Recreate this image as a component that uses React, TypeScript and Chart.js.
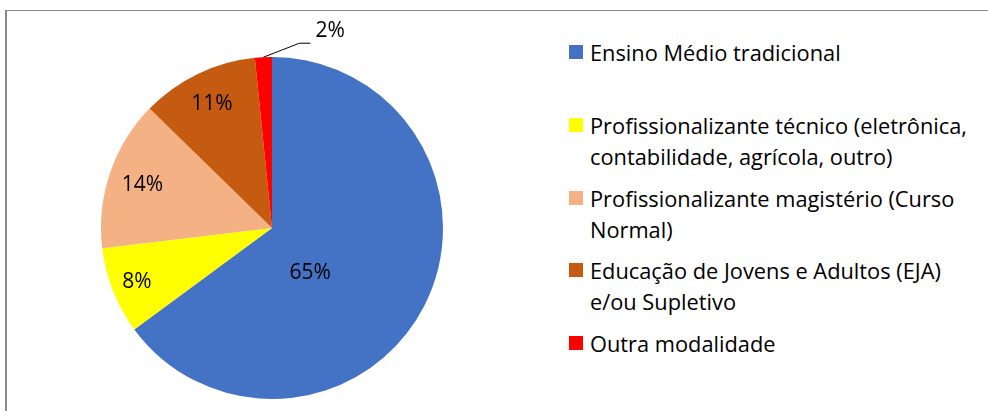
import React, { useEffect, useRef } from "react";
import { Chart, registerables } from "chart.js";

Chart.register(...registerables);

const categories = [
  "Ensino Médio tradicional",
  "Profissionalizante técnico (eletrônica,\ncontabilidade, agrícola, outro)",
  "Profissionalizante magistério (Curso\nNormal)",
  "Educação de Jovens e Adultos (EJA)\ne/ou Supletivo",
  "Outra modalidade",
];
const values = [64.9, 8.2, 14.2, 11.1, 1.6];
const valueLabels = ["65%", "8%", "14%", "11%", "2%"];
const colors = ["#4472C4", "#FFFF00", "#F4B183", "#C55A11", "#FF0000"];

// label placement style: radius fraction and angular offset (deg); null => outside with leader
const labelRadius: (number | null)[] = [0.34, 0.85, 0.8, 0.81, null];
const labelAngleOffset = [22, 0, 0, 0, 0];
const legendGaps = [0, 42, 11, 10, 11];

const FONT = "'Open Sans', 'Noto Sans', sans-serif";

const labelPlugin = {
  id: "sliceLabels",
  afterDatasetsDraw(chart: any) {
    const ctx = chart.ctx;
    const meta = chart.getDatasetMeta(0);
    ctx.save();
    ctx.font = `21px ${FONT}`;
    ctx.fillStyle = "#000";
    meta.data.forEach((arc: any, i: number) => {
      const { x, y, startAngle, endAngle, outerRadius } = arc.getProps(
        ["x", "y", "startAngle", "endAngle", "outerRadius"],
        true
      );
      const mid = (startAngle + endAngle) / 2;
      const frac = labelRadius[i];
      if (frac !== null) {
        const a = mid + (labelAngleOffset[i] * Math.PI) / 180;
        ctx.textAlign = "center";
        ctx.textBaseline = "middle";
        ctx.fillText(valueLabels[i], x + Math.cos(a) * outerRadius * frac, y + Math.sin(a) * outerRadius * frac + 1);
      } else {
        const px = x + Math.cos(mid) * outerRadius;
        const py = y + Math.sin(mid) * outerRadius;
        const ex = px + 36;
        const ey = py - 14;
        ctx.strokeStyle = "#000";
        ctx.lineWidth = 1;
        ctx.beginPath();
        ctx.moveTo(px, py);
        ctx.lineTo(ex, ey);
        ctx.lineTo(ex + 11, ey);
        ctx.stroke();
        ctx.textAlign = "left";
        ctx.textBaseline = "middle";
        ctx.fillText(valueLabels[i], ex + 16, ey - 12);
      }
    });
    ctx.restore();
  },
};

export default function App() {
  const ref = useRef<HTMLCanvasElement>(null);
  useEffect(() => {
    document.body.style.margin = "0";
    const chart = new Chart(ref.current!, {
      type: "pie",
      data: {
        labels: categories,
        datasets: [
          {
            data: values,
            backgroundColor: colors,
            borderWidth: 0,
          },
        ],
      },
      options: {
        animation: false,
        responsive: false,
        layout: { padding: { left: 101, top: 57, right: 117, bottom: 12 } },
        plugins: { legend: { display: false }, tooltip: { enabled: false } },
      },
      plugins: [labelPlugin],
    });
    return () => chart.destroy();
  }, []);

  return (
    <div style={{ position: "relative", width: 988, height: 411, overflow: "hidden", background: "#fff" }}>
      <div
        style={{
          position: "absolute",
          left: 5,
          top: 10,
          width: 1000,
          height: 420,
          borderLeft: "2px solid #8c8c8c",
          borderTop: "1.5px solid #8c8c8c",
        }}
      />
      <canvas ref={ref} width={560} height={411} style={{ position: "absolute", left: 0, top: 0 }} />
      <div style={{ position: "absolute", left: 569, top: 36.5, fontFamily: FONT, fontSize: 21.8, color: "#000" }}>
        {categories.map((c, i) => (
          <div key={i} style={{ display: "flex", alignItems: "flex-start", marginTop: legendGaps[i] }}>
            <div style={{ width: 14, height: 14, background: colors[i], marginTop: 8.5, flex: "none" }} />
            <div style={{ marginLeft: 7, lineHeight: "31px", whiteSpace: "pre" }}>{c}</div>
          </div>
        ))}
      </div>
    </div>
  );
}
